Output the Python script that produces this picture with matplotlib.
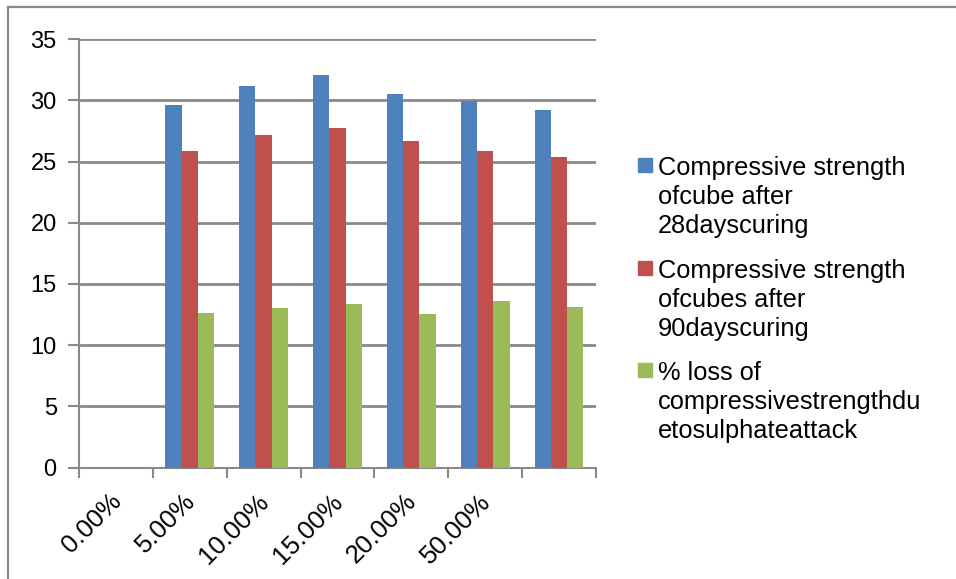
import numpy as np
import matplotlib
matplotlib.use('Agg')
import matplotlib.pyplot as plt
from matplotlib.lines import Line2D
from matplotlib.patches import Rectangle
from matplotlib.ticker import FixedLocator
from matplotlib.transforms import ScaledTranslation

plt.rcParams['font.family'] = ['Liberation Sans', 'DejaVu Sans']

# data (first group has no bars, last has no label)
categories = ['0.00%', '5.00%', '10.00%', '15.00%', '20.00%', '50.00%', '']
strength_28 = [np.nan, 29.6, 31.2, 32.1, 30.5, 29.9, 29.2]
strength_90 = [np.nan, 25.85, 27.15, 27.75, 26.65, 25.85, 25.35]
loss_pct = [np.nan, 12.65, 13.0, 13.4, 12.55, 13.65, 13.15]
series_labels = ['Compressive strength\nofcube after\n28dayscuring',
                 'Compressive strength\nofcubes after\n90dayscuring',
                 '% loss of\ncompressivestrengthdu\netosulphateattack']
colors = ['#4F81BD', '#C0504D', '#9BBB59']
grid_col = '#898989'

W, H = 956, 579
fig = plt.figure(figsize=(W / 100, H / 100), dpi=100)
ax = fig.add_axes([0.0826, 0.1922, 0.5408, 0.7404])

x = np.arange(len(categories))
w = 0.22
for i, vals in enumerate([strength_28, strength_90, loss_pct]):
    ax.bar(x + (i - 1) * w, vals, width=w, color=colors[i], label=series_labels[i], zorder=3)

ax.set_xlim(-0.5, len(categories) - 0.5)
ax.set_ylim(0, 35)
ax.set_yticks(range(0, 36, 5))
ax.yaxis.grid(True, color=grid_col, linewidth=2, zorder=0)

# category boundaries get the tick marks, centres get the labels
ax.xaxis.set_major_locator(FixedLocator(np.arange(-0.5, len(categories), 1.0)))
ax.xaxis.set_major_formatter(plt.NullFormatter())
ax.xaxis.set_minor_locator(FixedLocator(x))
ax.set_xticklabels(categories, minor=True, rotation=45, ha='right',
                   rotation_mode='anchor', fontsize=18.5)
ax.tick_params(axis='x', which='minor', length=0, pad=15.5)
ax.tick_params(axis='x', which='major', length=7, width=1.5, color=grid_col)
ax.tick_params(axis='y', length=8, width=1.5, color=grid_col, labelsize=17, pad=8)
shift = ScaledTranslation(-7 / 100, 0, fig.dpi_scale_trans)
for lbl in ax.get_xticklabels(minor=True):
    lbl.set_transform(lbl.get_transform() + shift)

for s in ['top', 'right']:
    ax.spines[s].set_visible(False)
for s in ['left', 'bottom']:
    ax.spines[s].set_color(grid_col)
    ax.spines[s].set_linewidth(1.5)

# legend drawn by hand: square sits beside the first line of each entry
first_baseline = [175, 278, 380]
for i, lab in enumerate(series_labels):
    b = first_baseline[i]
    fig.add_artist(Rectangle((638 / W, 1 - (b - 3) / H), 14 / W, 14 / H,
                             transform=fig.transFigure, color=colors[i]))
    for j, line in enumerate(lab.split('\n')):
        fig.text(658 / W, 1 - (b + 29 * j) / H, line, fontsize=18.3, va='baseline')

# outer chart border (left and top edges only visible)
fig.add_artist(Line2D([8 / W, 8 / W], [0, 1 - 6.5 / H], color=grid_col, linewidth=1.6))
fig.add_artist(Line2D([8 / W, 1], [1 - 6.5 / H, 1 - 6.5 / H], color=grid_col, linewidth=1.6))

fig.savefig('out.png', dpi=100)
